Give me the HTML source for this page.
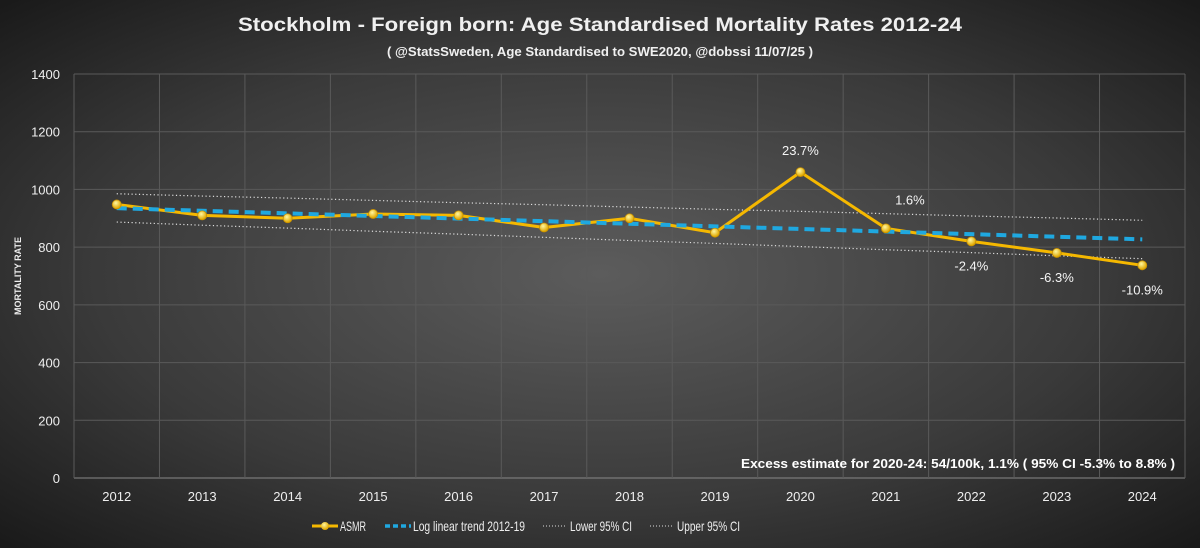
<!DOCTYPE html>
<html><head><meta charset="utf-8"><style>
html,body{margin:0;padding:0;width:1200px;height:548px;overflow:hidden;background:#2a2a2a;}
svg{display:block;font-family:"Liberation Sans",sans-serif;}
</style></head><body>
<svg id="chart" width="1200" height="548" viewBox="0 0 1200 548">
<defs>
<radialGradient id="bg" cx="50%" cy="50%" r="70%">
<stop offset="0" stop-color="#5c5c5c"/><stop offset="0.6" stop-color="#3a3a3a"/><stop offset="1" stop-color="#1a1a1a"/>
</radialGradient>
<radialGradient id="dot" cx="40%" cy="35%" r="60%"><stop offset="0" stop-color="#fff7a0"/><stop offset="1" stop-color="#e0a800"/></radialGradient>
</defs>
<rect width="1200" height="548" fill="url(#bg)"/>
<text x="238" y="31" textLength="724" lengthAdjust="spacingAndGlyphs" fill="#f0f0f0" font-size="19" font-weight="bold">Stockholm - Foreign born: Age Standardised Mortality Rates 2012-24</text>
<text x="387" y="56" textLength="426" lengthAdjust="spacingAndGlyphs" fill="#f0f0f0" font-size="13" font-weight="bold">( @StatsSweden, Age Standardised to SWE2020, @dobssi 11/07/25 )</text>
<text transform="translate(21,276) rotate(-90)" text-anchor="middle" fill="#eee" font-size="9" font-weight="bold">MORTALITY RATE</text>
<g id="grid"></g><g id="marks"></g>
<text x="741" y="468" textLength="434" lengthAdjust="spacingAndGlyphs" fill="#fff" font-size="12.5" font-weight="bold">Excess estimate for 2020-24: 54/100k, 1.1% ( 95% CI -5.3% to 8.8% )</text>
<g font-size="14" fill="#eee">
<g><line x1="312" y1="526" x2="338" y2="526" stroke="#f5b800" stroke-width="3"/><circle cx="325" cy="526" r="4" fill="url(#dot)"/><text x="340" y="531" textLength="26" lengthAdjust="spacingAndGlyphs">ASMR</text></g>
<g><line x1="385" y1="526" x2="411" y2="526" stroke="#1fa8e0" stroke-width="3.5" stroke-dasharray="5,3"/><text x="413" y="531" textLength="112" lengthAdjust="spacingAndGlyphs">Log linear trend 2012-19</text></g>
<g><line x1="543" y1="526" x2="566" y2="526" stroke="#ddd" stroke-width="1" stroke-dasharray="1,2"/><text x="570" y="531" textLength="62" lengthAdjust="spacingAndGlyphs">Lower 95% CI</text></g>
<g><line x1="650" y1="526" x2="673" y2="526" stroke="#ddd" stroke-width="1" stroke-dasharray="1,2"/><text x="677" y="531" textLength="63" lengthAdjust="spacingAndGlyphs">Upper 95% CI</text></g>
</g>
</svg>
<script>
const years=[2012,2013,2014,2015,2016,2017,2018,2019,2020,2021,2022,2023,2024];
const asmr=[948,910,900,915,910,868,900,850,1060,865,820,780,737];
const trend=[935,926,917,908,899,890,881,872,863,854,845,836,827];
const lowerCI=[887,876,866,855,845,834,823,813,802,791,781,770,760];
const upperCI=[985,977,970,962,954,947,939,931,924,916,908,901,893];
const pctLabels=["","","","","","","","","23.7%","1.6%","-2.4%","-6.3%","-10.9%"];
const yTicks=[0,200,400,600,800,1000,1200,1400];
const L=74,R=1185,T=74,B=478,yMax=1400;
const bw=(R-L)/years.length;
const xs=i=>L+bw*(i+0.5);
const ys=v=>B-(v/yMax)*(B-T);
const NS="http://www.w3.org/2000/svg";
const grid=document.getElementById('grid'),marks=document.getElementById('marks');
function mk(tag,attrs,parent){const e=document.createElementNS(NS,tag);for(const k in attrs)e.setAttribute(k,attrs[k]);parent.appendChild(e);return e;}
yTicks.forEach(v=>{
 const g=mk('line',{x1:L,x2:R,y1:ys(v),y2:ys(v),stroke:v===0?'#888':'#5a5a5a','stroke-width':1},grid);
 
 
 const t=mk('text',{x:L-14,y:ys(v)+5,'text-anchor':'end',fill:'#eee','font-size':13},grid);
 
 
 t.textContent=v;
});
for(let i=0;i<=years.length;i++){
 const g=mk('line',{x1:L+bw*i,x2:L+bw*i,y1:T,y2:B,stroke:'#5a5a5a','stroke-width':1},grid);
 
 
}
years.forEach((y,i)=>{
 const t=mk('text',{x:xs(i),y:B+23,'text-anchor':'middle',fill:'#eee','font-size':13},grid);
 
 
 t.textContent=y;
});
function pts(a){return a.map((v,i)=>xs(i)+','+ys(v)).join(' ');}
const lo=mk('polyline',{points:pts(lowerCI),fill:'none',stroke:'#ddd','stroke-width':1.2,'stroke-dasharray':'1.2,2.5'},marks);


const up=mk('polyline',{points:pts(upperCI),fill:'none',stroke:'#ddd','stroke-width':1.2,'stroke-dasharray':'1.2,2.5'},marks);


const as=mk('polyline',{points:pts(asmr),fill:'none',stroke:'#f5b800','stroke-width':3,'stroke-linejoin':'round'},marks);


const tr=mk('polyline',{points:pts(trend),fill:'none',stroke:'#1fa8e0','stroke-width':4,'stroke-dasharray':'10,6'},marks);


asmr.forEach((v,i)=>{
 const c=mk('circle',{cx:xs(i),cy:ys(v),r:4.5,fill:'url(#dot)',stroke:'#c89000','stroke-width':0.8},marks);
 
 
 if(pctLabels[i]){
  const above=(i<=9);
  const t=mk('text',{x:xs(i)+(i===9?24:0),y:above?ys(v)-(i===9?24:17):ys(v)+29,'text-anchor':'middle',fill:'#f5f5f5','font-size':13},marks);
  
  
  t.textContent=pctLabels[i];
 }
});
</script>
</body></html>
